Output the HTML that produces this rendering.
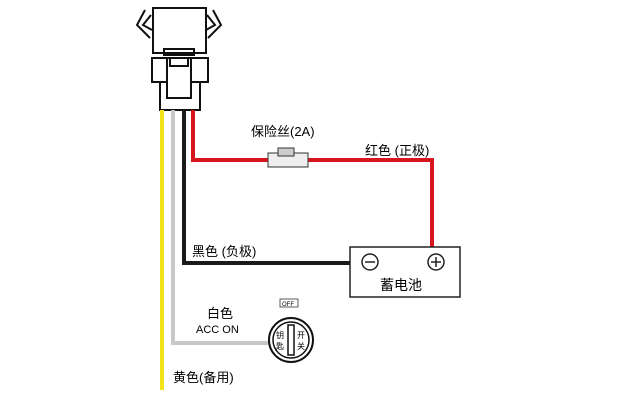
<!DOCTYPE html><html><head><style>body{margin:0;background:#fff}</style></head><body>
<svg width="640" height="410" viewBox="0 0 640 410" xmlns="http://www.w3.org/2000/svg" font-family="Liberation Sans, Noto Sans CJK SC, sans-serif">
<g fill="none" stroke="#111" stroke-width="2">
<rect x="153" y="8" width="53" height="45" fill="#fff"/>
<path d="M145 10 L137 25 L150 38 M152 30 L143 25 L151 15"/>
<path d="M213 10 L221 25 L208 38 M206 30 L215 25 L207 15"/>
<rect x="164" y="49" width="30" height="6"/>
<rect x="152" y="58" width="56" height="24" fill="#fff"/>
<rect x="160" y="82" width="40" height="28" fill="#fff"/>
<rect x="167" y="58" width="24" height="40" fill="#fff"/>
<rect x="170" y="58" width="18" height="8"/>
</g>
<g fill="none" stroke-width="4">
<path d="M162 110 V390" stroke="#f5e31a"/>
<path d="M173 110 V343 H275" stroke="#c8c8c8"/>
<path d="M184 110 V263 H352" stroke="#1a1a1a"/>
<path d="M193 110 V160 H432 V247" stroke="#d8141d"/>
</g>
<rect x="268" y="153" width="40" height="14" fill="#eee" stroke="#333"/>
<rect x="278" y="148" width="16" height="8" fill="#ccc" stroke="#333"/>
<rect x="350" y="247" width="110" height="50" fill="#fff" stroke="#222" stroke-width="1.5"/>
<circle cx="370" cy="262" r="8" fill="none" stroke="#222" stroke-width="1.5"/><path d="M365 262h10" stroke="#222" stroke-width="1.5"/>
<circle cx="436" cy="262" r="8" fill="none" stroke="#222" stroke-width="1.5"/><path d="M431 262h10M436 257v10" stroke="#222" stroke-width="1.5"/>
<text x="380" y="290" font-size="14">蓄电池</text>
<text x="251" y="136" font-size="13">保险丝(2A)</text>
<text x="365" y="155" font-size="13">红色 (正极)</text>
<text x="192" y="256" font-size="13">黑色 (负极)</text>
<text x="207" y="318" font-size="13">白色</text>
<text x="196" y="333" font-size="11">ACC  ON</text>
<text x="173" y="382" font-size="13">黄色(备用)</text>
<rect x="280" y="299" width="18" height="8" fill="none" stroke="#333" stroke-width="0.8"/>
<text x="282" y="306" font-size="6">OFF</text>
<circle cx="291" cy="340" r="22" fill="#fff" stroke="#111" stroke-width="2"/>
<circle cx="291" cy="340" r="18" fill="none" stroke="#111" stroke-width="1.5"/>
<rect x="288" y="325" width="6" height="30" fill="#fff" stroke="#111" stroke-width="1.5"/>
<text x="276" y="338" font-size="8">钥</text><text x="276" y="349" font-size="8">匙</text>
<text x="297" y="338" font-size="8">开</text><text x="297" y="349" font-size="8">关</text>
</svg></body></html>
